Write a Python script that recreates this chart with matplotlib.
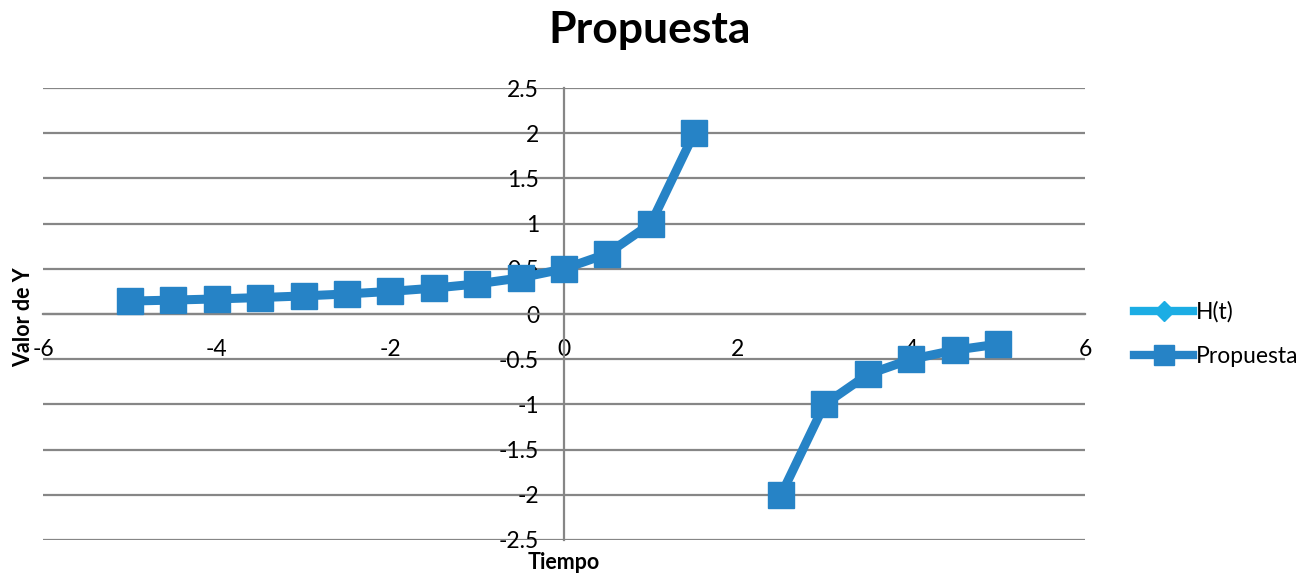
import matplotlib
matplotlib.use("Agg")
import matplotlib.pyplot as plt
import numpy as np

plt.rcParams.update({
    "font.family": ["Lato", "DejaVu Sans"],
    "font.size": 16,
})

# data (t = 2 is an empty cell -> gap in the line)
tiempo = [-5, -4.5, -4, -3.5, -3, -2.5, -2, -1.5, -1, -0.5, 0, 0.5, 1, 1.5,
          2, 2.5, 3, 3.5, 4, 4.5, 5]
h_t = [0.143, 0.154, 0.167, 0.182, 0.2, 0.222, 0.25, 0.286, 0.333, 0.4, 0.5,
       0.667, 1.0, 2.0, np.nan, -2.0, -1.0, -0.667, -0.5, -0.4, -0.333]
propuesta = [0.143, 0.154, 0.167, 0.182, 0.2, 0.222, 0.25, 0.286, 0.333, 0.4,
             0.5, 0.667, 1.0, 2.0, np.nan, -2.0, -1.0, -0.667, -0.5, -0.4,
             -0.333]
x_ticks = [-6, -4, -2, 0, 2, 4, 6]
y_ticks = [-2.5, -2, -1.5, -1, -0.5, 0, 0.5, 1, 1.5, 2, 2.5]

grid_col = "#868686"

fig = plt.figure(figsize=(13.05, 5.76), dpi=100)
ax = fig.add_axes([0.033, 0.0625, 0.7984, 0.7847])

# H(t) sits underneath Propuesta (same points), only its legend entry shows
ax.plot(tiempo, h_t, color="#1CADE4", lw=5, marker="D", ms=11,
        label="H(t)", zorder=3)
ax.plot(tiempo, propuesta, color="#2683C6", lw=6.5, marker="s", ms=19,
        label="Propuesta", zorder=4)

ax.set_xlim(-6, 6)
ax.set_ylim(-2.5, 2.5)
ax.set_xticks(x_ticks)
ax.set_yticks(y_ticks)
ax.set_xticklabels([f"{v:g}" for v in x_ticks])
ax.set_yticklabels([f"{v:g}" for v in y_ticks])

ax.yaxis.grid(True, color=grid_col, lw=1.6)
ax.set_axisbelow(True)
for side in ("top", "right"):
    ax.spines[side].set_visible(False)
ax.spines["left"].set_position("zero")
ax.spines["bottom"].set_position("zero")
ax.spines["left"].set_color(grid_col)
ax.spines["left"].set_linewidth(1.6)
ax.spines["bottom"].set_color(grid_col)
ax.spines["bottom"].set_linewidth(1.6)
ax.tick_params(axis="both", length=0, labelsize=16.5, pad=18)

fig.text(0.498, 0.948, "Propuesta", ha="center", va="center",
         fontsize=32, fontweight="bold")
fig.text(0.018, 0.45, "Valor de Y", ha="center", va="center",
         rotation=90, fontsize=15.5, fontweight="bold")
fig.text(0.432, 0.024, "Tiempo", ha="center", va="center",
         fontsize=15.5, fontweight="bold")

leg = fig.legend(loc="center left", bbox_to_anchor=(0.853, 0.42),
                 frameon=False, fontsize=16.5, handlelength=2.6,
                 labelspacing=1.0, handletextpad=0.1)
leg.legend_handles[0].set_markersize(10)
leg.legend_handles[0].set_linewidth(6)
leg.legend_handles[1].set_markersize(14)
leg.legend_handles[1].set_linewidth(6)

fig.savefig("out.png", dpi=100)
